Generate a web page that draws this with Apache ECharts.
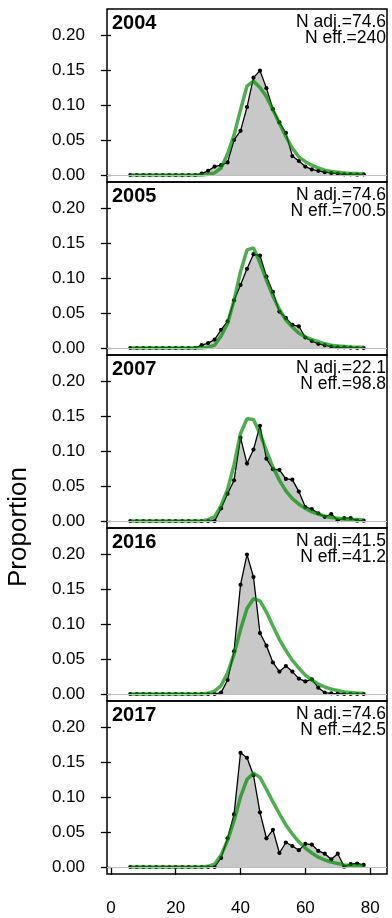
<!DOCTYPE html>
<html>
<head>
<meta charset="utf-8">
<script src="https://cdn.jsdelivr.net/npm/echarts@6/dist/echarts.min.js"></script>
<style>html,body{margin:0;padding:0;background:#fff}#c{width:392px;height:918px}</style>
</head>
<body>
<div id="c"></div>
<script>
var bins = [6,8,10,12,14,16,18,20,22,24,26,28,30,32,34,36,38,40,42,44,46,48,50,52,54,56,58,60,62,64,66,68,70,72,74,76,78];
var years = ['2004','2005','2007','2016','2017'];
var nAdj = ['74.6','74.6','22.1','41.5','74.6'];
var nEff = ['240','700.5','98.8','41.2','42.5'];
var yTicks = [0,0.05,0.10,0.15,0.20];
var xTicks = [0,20,40,60,80];

var obs2004 = [0,0,0,0,0,0,0,0,0,0,0, 0.002,0.006,0.012,0.014,0.018,0.050,0.063,0.097,0.139,0.149,0.124,0.094,0.075,0.060,0.027,0.020,0.012,0.008,0.006,0.004,0.003,0.002,0.001,0.001,0.0005,0.001];
var exp2004 = [0,0,0,0,0,0,0,0,0,0,0,0, 0.001,0.003,0.010,0.030,0.057,0.093,0.127,0.134,0.125,0.112,0.093,0.074,0.055,0.038,0.026,0.019,0.014,0.010,0.007,0.005,0.004,0.003,0.002,0.002,0.001];
var obs2005 = [0,0,0,0,0,0,0,0,0,0,0, 0.004,0.007,0.012,0.026,0.038,0.068,0.090,0.113,0.134,0.132,0.102,0.080,0.052,0.043,0.033,0.031,0.015,0.010,0.006,0.004,0.002,0.001,0.001,0.0005,0,0];
var exp2005 = [0,0,0,0,0,0,0,0,0,0,0,0, 0.001,0.004,0.017,0.035,0.068,0.109,0.140,0.143,0.122,0.097,0.074,0.055,0.040,0.030,0.021,0.016,0.012,0.009,0.006,0.004,0.003,0.002,0.001,0.001,0.001];
var obs2007 = [0,0,0,0,0,0,0,0,0,0,0,0,0,0, 0.018,0.039,0.058,0.119,0.082,0.102,0.136,0.089,0.074,0.073,0.060,0.059,0.042,0.020,0.017,0.011,0.006,0.010,0.001,0.004,0.004,0.0005,0.0005];
var exp2007 = [0,0,0,0,0,0,0,0,0,0,0,0, 0.002,0.006,0.022,0.045,0.080,0.125,0.146,0.145,0.125,0.100,0.077,0.058,0.043,0.032,0.024,0.018,0.013,0.010,0.007,0.005,0.004,0.003,0.002,0.002,0.001];
var obs2016 = [0,0,0,0,0,0,0,0,0,0,0,0,0,0, 0.002,0.020,0.061,0.156,0.199,0.167,0.087,0.069,0.045,0.032,0.040,0.032,0.022,0.018,0.021,0.009,0.002,0.001,0.0005,0,0,0,0];
var exp2016 = [0,0,0,0,0,0,0,0,0,0,0,0, 0.001,0.004,0.012,0.030,0.057,0.092,0.122,0.136,0.133,0.117,0.097,0.078,0.062,0.048,0.037,0.027,0.020,0.014,0.010,0.007,0.005,0.003,0.002,0.001,0.001];
var obs2017 = [0,0,0,0,0,0,0,0,0,0,0,0,0,0, 0.013,0.041,0.075,0.163,0.156,0.131,0.078,0.041,0.053,0.020,0.035,0.030,0.024,0.033,0.032,0.023,0.019,0.011,0.019,0.0005,0.004,0.005,0.003];
var exp2017 = [0,0,0,0,0,0,0,0,0,0,0,0, 0.001,0.004,0.017,0.038,0.066,0.100,0.125,0.134,0.128,0.111,0.093,0.076,0.060,0.047,0.036,0.027,0.020,0.014,0.010,0.007,0.005,0.003,0.002,0.002,0.001];

var obsAll = [obs2004,obs2005,obs2007,obs2016,obs2017];
var expAll = [exp2004,exp2005,exp2007,exp2016,exp2017];

var FONT = 'Liberation Sans, Arial, sans-serif';
var TOP = 9, H = 173, LEFT = 107, W = 280;
var grids = [], xAxes = [], yAxes = [], series = [], graphics = [];

for (var i = 0; i < 5; i++) {
  var last = (i === 4);
  grids.push({left: LEFT, top: TOP + i*H, width: W, height: H, show: true,
    borderColor: '#000', borderWidth: 1.5, backgroundColor: 'transparent'});
  xAxes.push({type: 'value', gridIndex: i, min: -1.2, max: 85.2, offset: 1,
    axisLine: {show: false}, splitLine: {show: false},
    axisTick: {show: last, length: 8, lineStyle: {color: '#000', width: 1.3}, customValues: xTicks},
    axisLabel: {show: last, margin: 25, fontSize: 17, color: '#000', fontFamily: FONT, customValues: xTicks}
  });
  yAxes.push({type: 'value', gridIndex: i, min: -0.01, max: 0.237,
    axisLine: {show: false}, splitLine: {show: false},
    axisTick: {show: true, length: 10, lineStyle: {color: '#000', width: 1.3}, customValues: yTicks},
    axisLabel: {show: true, margin: 22, fontSize: 17, color: '#000', fontFamily: FONT, customValues: yTicks,
      formatter: function (v) { return v.toFixed(2); }}
  });
  series.push({type: 'line', xAxisIndex: i, yAxisIndex: i, data: [], z: 1, silent: true,
    markLine: {silent: true, symbol: 'none', animation: false, label: {show: false},
      lineStyle: {color: '#bdbdbd', width: 1, type: 'solid'}, data: [{yAxis: 0}]}});
  series.push({type: 'line', xAxisIndex: i, yAxisIndex: i, z: 2, silent: true, animation: false,
    data: bins.map(function (b, k) { return [b, obsAll[i][k]]; }),
    symbol: 'circle', symbolSize: 4.2, showAllSymbol: true,
    lineStyle: {color: '#000', width: 1.3}, itemStyle: {color: '#000'},
    areaStyle: {color: '#c8c8c8', opacity: 1}});
  series.push({type: 'line', xAxisIndex: i, yAxisIndex: i, z: 3, silent: true, animation: false,
    data: bins.map(function (b, k) { return [b, expAll[i][k]]; }),
    symbol: 'none', lineStyle: {color: 'rgb(0,140,0)', width: 3.5, opacity: 0.7}});
  var t = TOP + i*H;
  graphics.push({type: 'text', x: 112, y: t + 14.3, style: {text: years[i], fill: '#000',
    font: 'bold 20px ' + FONT, align: 'left', verticalAlign: 'middle'}});
  graphics.push({type: 'text', x: 386, y: t + 12.7, style: {text: 'N adj.=' + nAdj[i], fill: '#000',
    font: '17.5px ' + FONT, align: 'right', verticalAlign: 'middle'}});
  graphics.push({type: 'text', x: 386, y: t + 29.3, style: {text: 'N eff.=' + nEff[i], fill: '#000',
    font: '17.5px ' + FONT, align: 'right', verticalAlign: 'middle'}});
}
graphics.push({type: 'text', x: 18.5, y: 527, rotation: Math.PI/2,
  style: {text: 'Proportion', fill: '#000', font: '26px ' + FONT, align: 'center', verticalAlign: 'middle'}});

var chart = echarts.init(document.getElementById('c'), null, {renderer: 'canvas'});
chart.setOption({animation: false, grid: grids, xAxis: xAxes, yAxis: yAxes, series: series, graphic: graphics});
</script>
</body>
</html>
